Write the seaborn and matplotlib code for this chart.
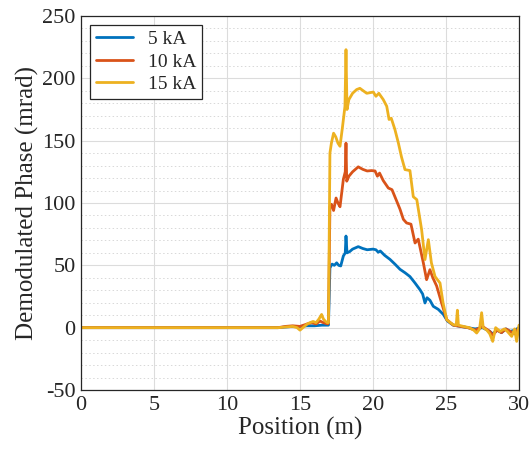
import numpy as np
import pandas as pd
import matplotlib
matplotlib.use("Agg")
import matplotlib.pyplot as plt
import seaborn as sns
from matplotlib.ticker import MultipleLocator

# ---- data ----
labels = ["5 kA", "10 kA", "15 kA"]
colors = ["#0072BD", "#D95319", "#EDB120"]

x_5 = [0, 13.5, 14.0, 14.5, 15.0, 15.5, 16.0, 16.5, 16.9, 16.95,
       17.05, 17.2, 17.35, 17.51, 17.65, 17.79, 17.97, 18.1, 18.15, 18.22,
       18.4, 18.6, 18.99, 19.3, 19.6, 20.0, 20.2, 20.36, 20.5, 20.8,
       21.16, 21.5, 21.85, 22.2, 22.53, 22.88, 23.22, 23.4, 23.56, 23.7,
       23.9, 24.13, 24.47, 24.82, 25.1, 25.5, 26.0, 26.5, 27.0, 27.5,
       28.0, 28.2, 28.5, 28.8, 29.1, 29.4, 29.7, 30.0]
y_5 = [0, 0, 0.5, 1, 1, 1.5, 1.5, 2, 2, 2,
       48, 51, 50, 52, 50, 49.5, 57.5, 60, 73.5, 60,
       61, 63, 65, 63.5, 62.5, 63, 62.5, 60.5, 61.5, 58,
       54.8, 51, 46.8, 44, 41, 35.8, 30.4, 27, 19.8, 24,
       22, 17.1, 14.7, 10.6, 5.3, 2, 1, 0, -1, 0,
       -3, -5, -2, -4, -1, -3, -2, 0]

x_10 = [0, 13.5, 14.0, 14.5, 15.0, 15.5, 15.8, 16.1, 16.37, 16.6,
        16.9, 16.95, 17.05, 17.15, 17.3, 17.47, 17.6, 17.74, 17.97, 18.1,
        18.15, 18.2, 18.35, 18.6, 18.99, 19.3, 19.6, 19.9, 20.14, 20.3,
        20.45, 20.7, 21.05, 21.3, 21.62, 21.85, 22.08, 22.3, 22.6, 22.88,
        23.1, 23.45, 23.67, 23.9, 24.1, 24.36, 24.7, 25.05, 25.5, 26.0,
        26.5, 27.0, 27.5, 28.0, 28.2, 28.5, 28.8, 29.1, 29.4, 29.7,
        30.0]
y_10 = [0, 0, 1, 1.5, 1, 3, 4, 3, 5.3, 4,
        3, 4, 97, 99, 94, 104, 100, 97, 119, 125,
        148, 117.5, 121.5, 125, 129, 127, 125.7, 126, 125.7, 121.5,
        124, 118, 112, 110.7, 101.6, 95, 86.9, 84, 83, 67.9,
        71, 51.9, 38.5, 46.5, 40, 33.4, 19.8, 6.4, 2, 1,
        0, -2, 1, -3, -6, -2, -4, -1, -3, -5,
        0]

x_15 = [0, 13.5, 14.0, 14.5, 14.8, 15.0, 15.2, 15.5, 15.68, 15.9,
        16.1, 16.3, 16.48, 16.6, 16.75, 16.87, 16.95, 17.05, 17.15, 17.3,
        17.45, 17.6, 17.74, 17.9, 18.08, 18.15, 18.22, 18.35, 18.6, 18.88,
        19.1, 19.57, 20.02, 20.2, 20.4, 20.7, 20.94, 21.1, 21.25, 21.5,
        21.74, 21.95, 22.19, 22.53, 22.76, 23.0, 23.33, 23.56, 23.79, 24.0,
        24.25, 24.59, 24.8, 25.05, 25.3, 25.5, 25.7, 25.78, 25.85, 26.2,
        26.6, 26.9, 27.1, 27.3, 27.44, 27.55, 27.8, 28.0, 28.2, 28.4,
        28.7, 29.0, 29.2, 29.5, 29.7, 29.84, 30.0]
y_15 = [0, 0, 0.5, 1, 0, -2, 0, 3, 4, 5,
        4, 7, 10.6, 7, 5, 4, 4, 140, 148, 156,
        153, 148, 145.5, 160, 177.6, 223, 175, 183, 188, 191,
        192, 188, 189, 185.6, 188, 183, 177.6, 167, 168, 159,
        148, 137, 126.8, 126, 105, 102.7, 78.6, 54.6, 70.6, 52,
        41, 35.8, 19.8, 6.4, 4, 2.4, 2, 14, 2, 1,
        0, -2, -4.3, -1, 12, 0, -2, -5, -11, 0,
        -3, -1, -3, -7, -1, -11, 2]

x_ticks = [0, 5, 10, 15, 20, 25, 30]
y_ticks = [-50, 0, 50, 100, 150, 200, 250]

df = pd.concat([
    pd.DataFrame({"Position": x_5, "Phase": y_5, "Current": labels[0]}),
    pd.DataFrame({"Position": x_10, "Phase": y_10, "Current": labels[1]}),
    pd.DataFrame({"Position": x_15, "Phase": y_15, "Current": labels[2]}),
], ignore_index=True)

# ---- style ----
sns.set_theme(style="white")
plt.rcParams["font.family"] = ["Liberation Serif", "DejaVu Serif"]
plt.rcParams["axes.unicode_minus"] = False

fig = plt.figure(figsize=(5.31, 4.55), dpi=100)
ax = fig.add_axes([81 / 531, 1 - 390 / 455, (519 - 81) / 531, (390 - 16) / 455])

sns.lineplot(data=df, x="Position", y="Phase", hue="Current",
             palette=colors, hue_order=labels, estimator=None, sort=False,
             linewidth=2.0, ax=ax)

ax.set_xlim(0, 30)
ax.set_ylim(-50, 250)
ax.set_xticks(x_ticks)
ax.set_yticks(y_ticks)
ax.yaxis.set_minor_locator(MultipleLocator(10))

ax.grid(True, which="major", color="#dcdcdc", linewidth=0.8, linestyle="-")
ax.grid(True, which="minor", axis="y", color="#d8d8d8", linewidth=0.7, linestyle=(0, (1.5, 2.5)))
ax.set_axisbelow(True)

for s in ax.spines.values():
    s.set_visible(True)
    s.set_color("#262626")
    s.set_linewidth(0.9)

ax.tick_params(axis="both", which="major", direction="in", length=4,
               labelsize=16, colors="#262626", labelcolor="#262626", pad=4)
ax.tick_params(axis="both", which="minor", length=0)

ax.set_xlabel("Position (m)", fontsize=18, color="#262626", labelpad=2)
ax.set_ylabel("Demodulated Phase (mrad)", fontsize=18, color="#262626", labelpad=2)

leg = ax.legend(loc="upper left", bbox_to_anchor=(0.02, 0.977), borderaxespad=0,
                fontsize=14, frameon=True, fancybox=False, framealpha=1,
                edgecolor="#262626", handlelength=1.9, handletextpad=0.8,
                labelspacing=0.25, borderpad=0.3)
leg.get_frame().set_linewidth(0.9)

fig.savefig("out.png", dpi=100)
